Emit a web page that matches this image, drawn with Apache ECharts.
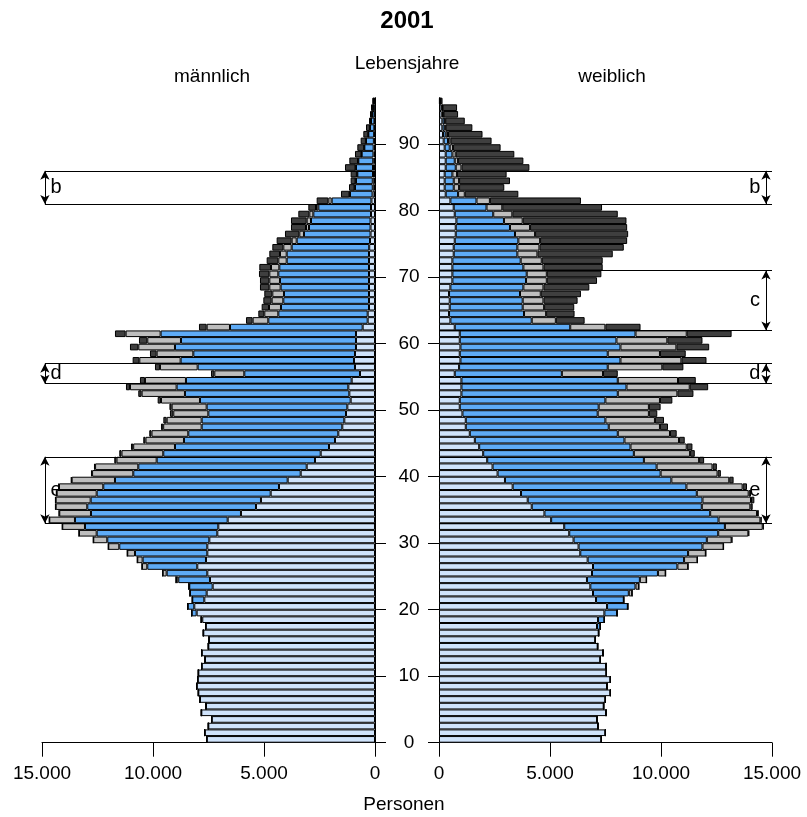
<!DOCTYPE html>
<html><head><meta charset="utf-8">
<script src="https://cdn.jsdelivr.net/npm/echarts@6/dist/echarts.min.js"></script>
<style>html,body{margin:0;padding:0;background:#fff}#c{width:807px;height:817px}</style>
</head><body><div id="c"></div>
<script>
// ---- data (ages 0..96) ----
const ages = Array.from({length: 97}, (_, i) => String(i));
const yTicks = [0, 10, 20, 30, 40, 50, 60, 70, 80, 90];
const xTicks = [0, 5000, 10000, 15000];

const maleLedig = [7582,7673,7508,7358,7823,7613,7883,7958,8033,7988,7958,7808,7658,7808,7508,7478,7733,7628,7780,8033,8140,7689,7583,7312,7433,7553,8005,7613,7553,7553,7463,7103,7058,6636,6037,5361,5136,4699,4325,3933,3347,3077,2703,2446,2072,1802,1653,1473,1383,1306,1246,1096,1156,1201,1051,676,901,946,901,856,856,856,556,330,330,270,270,270,270,270,270,270,270,270,260,225,200,200,200,180,180,160,110,100,100,90,90,80,70,60,50,40,30,25,20,15,10];
const maleVerh = [0,0,0,0,0,0,0,0,0,0,0,0,0,0,0,0,0,0,50,226,298,541,751,1054,1428,1831,2252,2854,3259,3966,4597,5434,6006,6879,6757,7600,7672,7838,7915,7780,7541,7586,7131,7091,6938,6803,6758,6334,6424,6202,6337,6788,7404,7735,7464,5211,7087,7809,7283,8154,7884,8800,5976,4476,4025,3965,3860,3830,3980,4010,4085,4040,3708,3708,3493,3303,2999,2773,2683,2598,2373,1792,1016,801,756,706,766,671,530,420,355,260,195,155,110,80,50];
const maleGesch = [0,0,0,0,0,0,0,0,0,0,0,0,0,0,0,0,0,0,0,0,0,0,0,20,104,181,240,241,347,495,630,798,1023,1157,1428,1423,1576,1802,1996,1951,1856,1946,1810,1882,1882,1733,1657,1734,1577,1578,1577,1757,1952,2101,1847,1351,1698,1862,1652,1653,1517,1577,1051,705,631,540,525,525,510,480,405,375,377,302,377,225,210,135,194,180,105,150,30,20,20,20,20,15,10,10,5,5,5,0,0,0,0];
const maleVerw = [0,0,0,0,0,0,0,0,0,0,0,0,0,0,0,0,0,0,0,0,0,0,0,0,0,0,0,0,0,0,0,0,0,0,20,20,20,25,25,30,50,50,100,100,100,100,100,100,150,150,100,149,151,180,225,150,225,300,300,374,375,480,346,300,270,330,375,361,421,421,466,526,525,480,495,677,646,676,707,496,345,526,376,250,220,280,476,390,291,306,236,221,175,90,95,85,60];

const femLedig = [7314,7495,7163,7118,7525,7419,7495,7721,7570,7721,7540,7525,7269,7389,7148,7042,7193,7118,7163,7450,7570,7073,6937,6816,6665,6892,6937,6696,6364,6288,6062,5866,5640,5052,4750,4177,3996,3695,3318,2971,2639,2413,2172,1991,1810,1614,1387,1206,1206,1056,935,935,1010,1010,1010,709,905,965,935,965,935,935,709,513,452,483,483,452,513,603,603,603,603,663,663,709,754,754,784,709,663,513,302,256,256,256,302,302,302,256,211,181,151,151,120,110,40];
const femVerh = [0,0,0,0,0,0,0,0,0,0,0,0,0,0,0,0,0,150,287,573,935,1251,1613,2036,2383,2970,3800,4343,4856,5580,6002,6711,7238,7540,7465,7661,7872,7917,7826,7495,7344,7389,7057,6786,6816,6740,6666,6440,6289,6092,6258,6560,7043,7435,7043,4825,6695,7208,6665,7208,7058,7917,5202,3664,3378,3287,3287,3197,3287,3318,3348,3197,3076,2866,2866,2865,2669,2443,2142,1734,1478,1176,558,408,408,347,452,407,301,227,196,121,105,100,60,40,15];
const femGesch = [0,0,0,0,0,0,0,0,0,0,0,0,0,0,0,0,0,0,0,0,0,0,151,151,302,347,483,603,799,950,1116,1357,1704,1885,2111,2186,2186,2337,2534,2608,2564,2518,2488,2533,2533,2458,2352,2307,2232,2307,2262,2458,2684,2850,2714,1855,2458,2745,2353,2519,2292,2307,1584,1086,996,965,935,935,905,935,905,905,950,904,995,980,905,905,844,860,709,603,301,241,241,211,256,151,151,150,106,105,40,30,20,15,5];
const femVerw = [0,0,0,0,0,0,0,0,0,0,0,0,0,0,0,0,0,0,0,0,0,0,0,0,0,0,0,0,0,0,30,40,50,60,80,106,151,105,196,196,150,197,226,211,257,257,302,362,407,377,528,558,724,829,799,664,950,1131,1161,1478,1583,2021,1583,1297,1281,1357,1538,1810,2066,2262,2458,2669,2745,3394,3800,3921,4192,4373,4675,4750,4494,4102,2413,2036,2292,2232,3062,2940,2639,2142,1855,1553,1207,880,660,649,100];

// annotation brackets: [label, lower age, upper age]
const bracketsLeft = [['b', 81, 86], ['d', 54, 57], ['e', 33, 43]];
const bracketsRight = [['b', 81, 86], ['c', 62, 71], ['d', 54, 57], ['e', 33, 43]];

// ---- chart ----
const FONT = '"Liberation Sans", Arial, Helvetica, sans-serif';
const colors = ['#cfe3fb', '#5eabf6', '#bebebe', '#3f3f3f'];
const fmt = v => String(v).replace(/\B(?=(\d{3})+(?!\d))/g, '.');

const chart = echarts.init(document.getElementById('c'), null, {renderer: 'canvas'});

function barSeries(data, gi, stack, color) {
  return {
    type: 'bar', xAxisIndex: gi, yAxisIndex: gi, stack: stack, data: data,
    barCategoryGap: '0%', z: 3, silent: true,
    itemStyle: {color: color, borderColor: '#000', borderWidth: 1}
  };
}

function annSeries(list, gi, side) {
  const arrowX = side === 'L' ? 14870 : 14730;
  const labelX = side === 'L' ? 14370 : 14230;
  const lineFar = side === 'L' ? 14870 : 15000;
  const ml = [];
  list.forEach(([t, lo, hi]) => {
    ml.push([{coord: [lineFar, hi], symbol: 'none'}, {coord: [0, hi], symbol: 'none'}]);
    ml.push([{coord: [lineFar, lo], symbol: 'none'}, {coord: [0, lo], symbol: 'none'}]);
    ml.push([{coord: [arrowX, lo], symbol: 'arrow'}, {coord: [arrowX, hi], symbol: 'arrow'}]);
  });
  return {
    type: 'scatter', xAxisIndex: gi, yAxisIndex: gi + 2, z: 1, silent: true,
    symbol: 'circle', symbolSize: 1, itemStyle: {opacity: 0},
    data: list.map(([t, lo, hi]) => ({name: t, value: [labelX, (lo + hi) / 2]})),
    label: {show: true, position: 'inside', formatter: p => p.name, color: '#000',
            fontFamily: FONT, fontSize: 20, opacity: 1},
    markLine: {
      silent: true, animation: false, symbolSize: [7, 9], precision: 4,
      label: {show: false},
      lineStyle: {color: '#000', width: 1, type: 'solid'},
      emphasis: {disabled: true},
      data: ml
    }
  };
}

const gridTop = 97.7, gridBottom = 74.3;
const xAxisCommon = {
  type: 'value', min: 0, max: 15000, interval: 5000,
  axisLine: {show: true, onZero: false, lineStyle: {color: '#000', width: 1}},
  axisTick: {show: true, length: 14, lineStyle: {color: '#000', width: 1}},
  axisLabel: {color: '#000', fontFamily: FONT, fontSize: 19, margin: 22, formatter: fmt},
  splitLine: {show: false}
};
const yValCommon = {
  type: 'value', min: 0, max: 97,
  axisLine: {show: true, onZero: false, lineStyle: {color: '#000', width: 1}},
  axisTick: {show: true, length: 11, customValues: yTicks, lineStyle: {color: '#000', width: 1}},
  splitLine: {show: false}
};

const option = {
  animation: false,
  backgroundColor: '#fff',
  grid: [
    {left: 42, right: 432, top: gridTop, bottom: gridBottom},
    {left: 439, right: 35, top: gridTop, bottom: gridBottom}
  ],
  xAxis: [
    Object.assign({}, xAxisCommon, {gridIndex: 0, inverse: true}),
    Object.assign({}, xAxisCommon, {gridIndex: 1})
  ],
  yAxis: [
    {gridIndex: 0, type: 'category', data: ages, show: false},
    {gridIndex: 1, type: 'category', data: ages, show: false},
    Object.assign({}, yValCommon, {gridIndex: 0, position: 'right', axisLabel: {show: false}}),
    Object.assign({}, yValCommon, {gridIndex: 1, position: 'left',
      axisLabel: {show: true, customValues: yTicks, align: 'center', margin: 30,
                  color: '#000', fontFamily: FONT, fontSize: 19}})
  ],
  series: [
    barSeries(maleLedig, 0, 'm', colors[0]),
    barSeries(maleVerh, 0, 'm', colors[1]),
    barSeries(maleGesch, 0, 'm', colors[2]),
    barSeries(maleVerw, 0, 'm', colors[3]),
    barSeries(femLedig, 1, 'f', colors[0]),
    barSeries(femVerh, 1, 'f', colors[1]),
    barSeries(femGesch, 1, 'f', colors[2]),
    barSeries(femVerw, 1, 'f', colors[3]),
    annSeries(bracketsLeft, 0, 'L'),
    annSeries(bracketsRight, 1, 'R')
  ],
  graphic: [
    {type: 'text', x: 407, y: 21, style: {text: '2001', font: 'bold 24px ' + FONT, fill: '#000', textAlign: 'center', textVerticalAlign: 'middle'}},
    {type: 'text', x: 407, y: 64, style: {text: 'Lebensjahre', font: '19px ' + FONT, fill: '#000', textAlign: 'center', textVerticalAlign: 'middle'}},
    {type: 'text', x: 212, y: 77, style: {text: 'männlich', font: '19px ' + FONT, fill: '#000', textAlign: 'center', textVerticalAlign: 'middle'}},
    {type: 'text', x: 612, y: 77, style: {text: 'weiblich', font: '19px ' + FONT, fill: '#000', textAlign: 'center', textVerticalAlign: 'middle'}},
    {type: 'text', x: 404, y: 805, style: {text: 'Personen', font: '19px ' + FONT, fill: '#000', textAlign: 'center', textVerticalAlign: 'middle'}}
  ]
};
chart.setOption(option);
</script>
</body></html>
